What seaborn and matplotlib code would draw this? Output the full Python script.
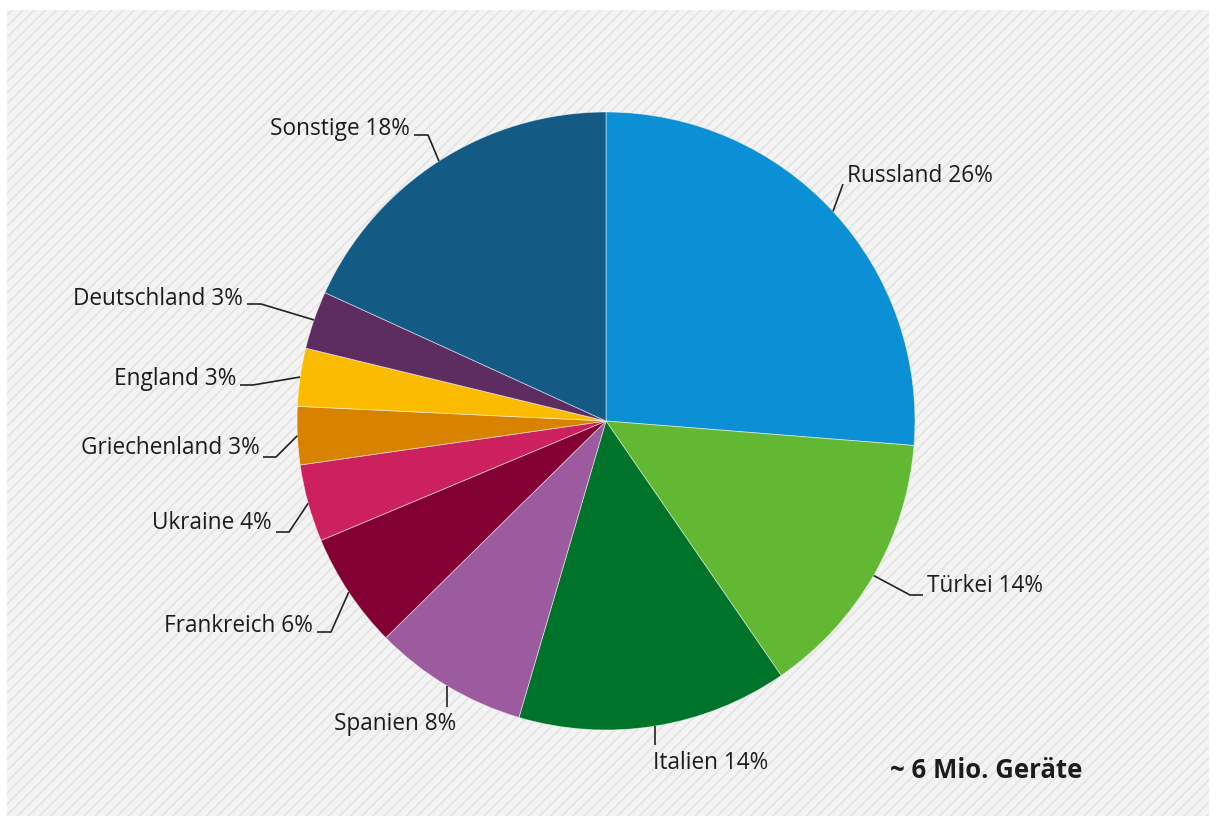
import matplotlib
matplotlib.use("Agg")
import matplotlib.pyplot as plt
from matplotlib.patches import Rectangle
import numpy as np
import seaborn as sns

# Market share by country (percent)
countries = ["Russland", "Türkei", "Italien", "Spanien", "Frankreich",
             "Ukraine", "Griechenland", "England", "Deutschland", "Sonstige"]
shares = [26, 14, 14, 8, 6, 4, 3, 3, 3, 18]
total_note = "~ 6 Mio. Geräte"

palette = sns.color_palette([
    "#0C90D5", "#62B832", "#00732A", "#9C5A9F", "#820034",
    "#CD205E", "#D88300", "#FABB00", "#5D2C61", "#135B85",
])

sns.set_theme(style="white")
plt.rcParams["font.family"] = ["Open Sans", "DejaVu Sans"]
plt.rcParams["hatch.linewidth"] = 1.1
plt.rcParams["hatch.color"] = "#e2e2e2"

W, H = 1216, 823
fig = plt.figure(figsize=(W / 100, H / 100), dpi=100, facecolor="white")

# striped panel behind the chart
panel = Rectangle((7 / W, 1 - 816 / H), 1202 / W, 806 / H,
                  transform=fig.transFigure, facecolor="#f3f3f3",
                  edgecolor="#e2e2e2", hatch="///", linewidth=0, zorder=-5)
fig.patches.append(panel)

ax = fig.add_axes([0, 0, 1, 1], zorder=1)
ax.patch.set_alpha(0)


def Y(y):
    return H - y


cx, cy, R = 606, 421, 309
wedges, _ = ax.pie(shares, colors=palette, startangle=90, counterclock=False,
                   center=(cx, Y(cy)), radius=R, normalize=True,
                   wedgeprops=dict(edgecolor=(1, 1, 1, 0.55), linewidth=0.6))
ax.set_aspect("auto")
ax.set_xlim(0, W)
ax.set_ylim(0, H)
ax.set_axis_off()

# label placement: text anchor (x, y, ha) and leader bend / end points;
# a None x means the leader drops straight down from the wedge edge
label_layout = {
    "Russland":     ((847, 176, "left"),  [(843, 184)]),
    "Türkei":       ((927, 586, "left"),  [(910, 595), (923, 595)]),
    "Italien":      ((653, 763, "left"),  [(None, 745)]),
    "Spanien":      ((395, 724, "center"), [(None, 707)]),
    "Frankreich":   ((313, 626, "right"), [(331, 632), (317, 632)]),
    "Ukraine":      ((272, 523, "right"), [(289, 532), (276, 532)]),
    "Griechenland": ((260, 448, "right"), [(276, 457), (263, 457)]),
    "England":      ((236, 379, "right"), [(253, 385), (240, 385)]),
    "Deutschland":  ((243, 299, "right"), [(261, 304), (247, 304)]),
    "Sonstige":     ((410, 129, "right"), [(428, 135), (414, 135)]),
}

for name, val, w in zip(countries, shares, wedges):
    mid = np.deg2rad((w.theta1 + w.theta2) / 2)
    ex, ey = cx + R * np.cos(mid), Y(cy) + R * np.sin(mid)
    (tx, ty, ha), pts = label_layout[name]
    xs = [ex] + [ex if p[0] is None else p[0] for p in pts]
    ys = [ey] + [Y(p[1]) for p in pts]
    ax.plot(xs, ys, color="#222222", lw=1.2, solid_capstyle="butt", zorder=3)
    ax.text(tx, Y(ty), f"{name} {val}%", ha=ha, va="center",
            fontsize=16.3, color="#1c1c1c", zorder=4)

ax.text(890, Y(770), total_note, ha="left", va="center", fontsize=18.5,
        fontweight="bold", color="#1c1c1c")

fig.savefig("out.png", dpi=100, facecolor="white")
